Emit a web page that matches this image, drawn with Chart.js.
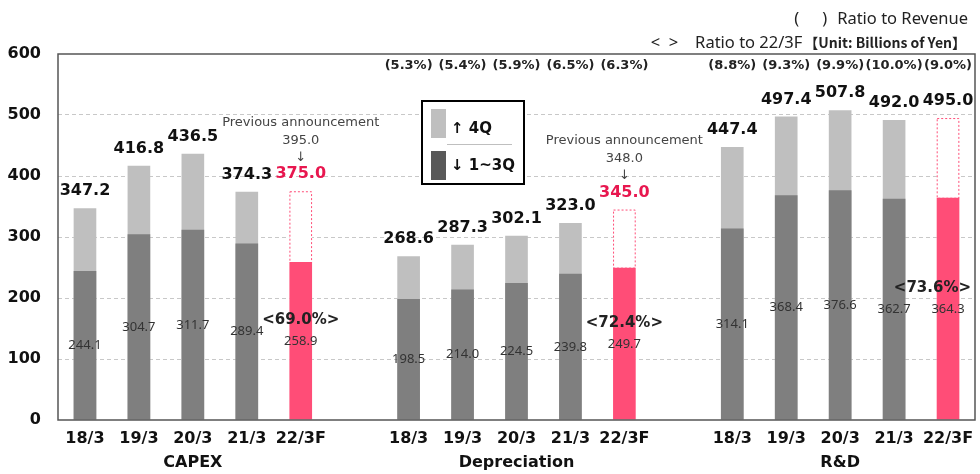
<!DOCTYPE html>
<html>
<head>
<meta charset="utf-8">
<script src="https://cdn.jsdelivr.net/npm/chart.js@4"></script>
<style>
  html, body { margin: 0; padding: 0; background: #fff; }
  #wrap { width: 980px; height: 474px; position: relative; }
</style>
</head>
<body>
<div id="wrap"><canvas id="costChart" width="980" height="474"></canvas></div>
<script>
const groups = ['CAPEX', 'Depreciation', 'R&D'];
const years = ['18/3', '19/3', '20/3', '21/3', '22/3F'];

// full year and 1~3Q, billions of yen
const capexTotal = [347.2, 416.8, 436.5, 374.3, 375.0];
const capexQ13 = [244.1, 304.7, 311.7, 289.4, 258.9];
const deprTotal = [268.6, 287.3, 302.1, 323.0, 345.0];
const deprQ13 = [198.5, 214.0, 224.5, 239.8, 249.7];
const rndTotal = [447.4, 497.4, 507.8, 492.0, 495.0];
const rndQ13 = [314.1, 368.4, 376.6, 362.7, 364.3];

const revenueRatio = [
  [],
  ['5.3%', '5.4%', '5.9%', '6.5%', '6.3%'],
  ['8.8%', '9.3%', '9.9%', '10.0%', '9.0%'],
];
const forecastRatio = ['69.0%', '72.4%', '73.6%'];
const previousForecast = [395.0, 348.0, null];
const yTicks = [0, 100, 200, 300, 400, 500, 600];

const GRAY_LIGHT = '#BFBFBF';
const GRAY_DARK = '#7F7F7F';
const PINK = '#FF4D77';
const PINK_TEXT = '#E8174F';

// one empty slot between groups
const labels = [];
const totals = [];
const q13 = [];
const slotInfo = [];
[[capexTotal, capexQ13], [deprTotal, deprQ13], [rndTotal, rndQ13]].forEach(([t, q], g) => {
  if (g > 0) { labels.push(''); totals.push(null); q13.push(null); slotInfo.push(null); }
  years.forEach((y, i) => {
    labels.push(y);
    totals.push(t[i]);
    q13.push(q[i]);
    slotInfo.push({ g, i });
  });
});

const isForecast = (idx) => slotInfo[idx] && slotInfo[idx].i === years.length - 1;

const overlay = {
  id: 'overlay',
  afterDatasetsDraw(chart) {
    const { ctx, chartArea } = chart;
    const yScale = chart.scales.y;
    const xScale = chart.scales.x;
    const topMeta = chart.getDatasetMeta(1).data;
    const lowMeta = chart.getDatasetMeta(0).data;
    ctx.save();

    // dashed outline of the forecast 4Q part
    slotInfo.forEach((s, idx) => {
      if (!s || !isForecast(idx)) return;
      const t = topMeta[idx], b = lowMeta[idx];
      ctx.strokeStyle = PINK;
      ctx.lineWidth = 1;
      ctx.setLineDash([2, 2]);
      ctx.strokeRect(t.x - t.width / 2 + 0.5, t.y + 0.5, t.width - 1, b.y - t.y);
    });
    ctx.setLineDash([]);

    ctx.textAlign = 'center';
    ctx.textBaseline = 'middle';
    slotInfo.forEach((s, idx) => {
      if (!s) return;
      const t = topMeta[idx], b = lowMeta[idx];
      const forecastPrev = isForecast(idx) ? previousForecast[s.g] : null;

      // 1~3Q value in the middle of the lower part
      const midY = (b.y + yScale.getPixelForValue(0)) / 2;
      ctx.font = '13px "Noto Sans"';
      ctx.fillStyle = '#333';
      ctx.fillText(q13[idx].toFixed(1), b.x, midY);

      // full year value above the bar
      ctx.font = 'bold 16px "DejaVu Sans"';
      ctx.fillStyle = forecastPrev != null ? PINK_TEXT : '#111';
      ctx.fillText(totals[idx].toFixed(1), t.x, t.y - 17);

      if (forecastPrev != null) {
        ctx.font = '13px "DejaVu Sans"';
        ctx.fillStyle = '#444';
        ctx.fillText('↓', t.x, t.y - 34);
        ctx.fillText(forecastPrev.toFixed(1), t.x, t.y - 51);
        ctx.fillText('Previous announcement', t.x, t.y - 69);
      }

      if (isForecast(idx)) {
        ctx.font = 'bold 15px "DejaVu Sans"';
        ctx.fillStyle = '#222';
        const txt = '<' + forecastRatio[s.g] + '>';
        const w = ctx.measureText(txt).width;
        let cx = b.x;
        if (cx + w / 2 > chartArea.right - 4) cx = chartArea.right - 4 - w / 2;
        ctx.fillText(txt, cx, midY - 21);
      }

      const r = revenueRatio[s.g][s.i];
      if (r) {
        ctx.font = 'bold 13px "DejaVu Sans"';
        ctx.fillStyle = '#222';
        ctx.fillText('(' + r + ')', t.x, chartArea.top + 12);
      }
    });

    // group names under the year ticks
    ctx.font = 'bold 16px "DejaVu Sans"';
    ctx.fillStyle = '#111';
    groups.forEach((name, g) => {
      const mid = slotInfo.findIndex(s => s && s.g === g && s.i === 2);
      ctx.fillText(name, xScale.getPixelForValue(mid), 463);
    });

    // plot frame
    ctx.strokeStyle = '#555';
    ctx.lineWidth = 1.5;
    ctx.strokeRect(chartArea.left, chartArea.top, chartArea.right - chartArea.left, chartArea.bottom - chartArea.top);

    // legend box
    ctx.fillStyle = '#fff';
    ctx.fillRect(422, 101, 102, 83);
    ctx.strokeStyle = '#000';
    ctx.lineWidth = 2;
    ctx.strokeRect(422, 101, 102, 83);
    ctx.fillStyle = GRAY_LIGHT;
    ctx.fillRect(431, 109, 15, 29);
    ctx.fillStyle = '#595959';
    ctx.fillRect(431, 151, 15, 29);
    ctx.strokeStyle = GRAY_LIGHT;
    ctx.lineWidth = 1;
    ctx.beginPath();
    ctx.moveTo(447, 144.5);
    ctx.lineTo(512, 144.5);
    ctx.stroke();
    ctx.fillStyle = '#111';
    ctx.font = 'bold 15px "DejaVu Sans"';
    ctx.textAlign = 'left';
    ctx.fillText('↑ 4Q', 451, 129);
    ctx.fillText('↓ 1~3Q', 451, 166);

    // header notes
    ctx.textAlign = 'right';
    ctx.fillStyle = '#222';
    ctx.font = '16.5px "Noto Sans"';
    ctx.fillText('Ratio to Revenue', 968, 19);
    let left = 968 - ctx.measureText('Ratio to Revenue').width;
    ctx.fillText(')', left - 10, 19);
    ctx.fillText('(', left - 38, 19);

    ctx.font = 'bold 14px "Noto Sans CJK JP"';
    const unit = '【Unit: Billions of Yen】';
    ctx.fillText(unit, 966, 43);
    left = 966 - ctx.measureText(unit).width;
    ctx.font = '16.5px "Noto Sans"';
    ctx.fillText('Ratio to 22/3F', left - 2, 43);
    left = left - 2 - ctx.measureText('Ratio to 22/3F').width;
    ctx.fillText('>', left - 17, 43);
    ctx.fillText('<', left - 35, 43);
    ctx.restore();
  }
};

new Chart(document.getElementById('costChart'), {
  type: 'bar',
  data: {
    labels,
    datasets: [
      {
        label: '1~3Q',
        data: q13,
        backgroundColor: q13.map((v, idx) => isForecast(idx) ? PINK : GRAY_DARK),
        categoryPercentage: 1,
        barPercentage: 0.42,
      },
      {
        label: '4Q',
        data: totals,
        backgroundColor: totals.map((v, idx) => isForecast(idx) ? '#fff' : GRAY_LIGHT),
        categoryPercentage: 1,
        barPercentage: 0.42,
      },
    ],
  },
  options: {
    responsive: false,
    animation: false,
    layout: { padding: { top: 54, right: 5, left: 0, bottom: 0 } },
    plugins: { legend: { display: false }, tooltip: { enabled: false } },
    scales: {
      x: {
        stacked: true,
        grid: { display: false },
        border: { display: false },
        ticks: { color: '#111', font: { family: 'DejaVu Sans', size: 16, weight: 'bold' }, padding: 1, maxRotation: 0, autoSkip: false },
        afterFit: (scale) => { scale.height = 54; },
      },
      y: {
        stacked: false,
        min: 0,
        max: 600,
        afterBuildTicks: (scale) => { scale.ticks = yTicks.map(v => ({ value: v })); },
        grid: {
          color: (c) => (c.tick && (c.tick.value === 0 || c.tick.value === 600)) ? 'rgba(0,0,0,0)' : '#C8C8C8',
          drawTicks: false,
        },
        border: { display: false, dash: [4, 3] },
        ticks: { color: '#111', font: { family: 'DejaVu Sans', size: 16, weight: 'bold' }, padding: 17 },
        afterFit: (scale) => { scale.width = 58; },
      },
    },
  },
  plugins: [overlay],
});
</script>
</body>
</html>
